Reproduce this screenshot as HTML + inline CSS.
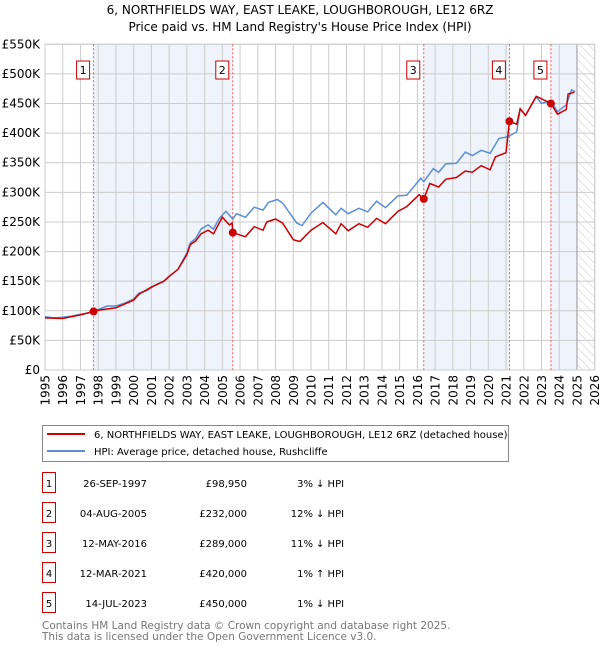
<!DOCTYPE html>
<html><head><meta charset="utf-8"><style>
body{margin:0;background:#fff;font-family:"DejaVu Sans","Liberation Sans",sans-serif;}
svg text{font-family:"DejaVu Sans","Liberation Sans",sans-serif;}
</style></head><body>
<svg id="chart" width="600" height="650" viewBox="0 0 600 650" xmlns="http://www.w3.org/2000/svg">
<defs>
<pattern id="hatch" width="6" height="6" patternUnits="userSpaceOnUse" patternTransform="rotate(-45)">
<line x1="0" y1="0" x2="0" y2="6" stroke="#ccc" stroke-width="1"/>
</pattern>
</defs>
<text x="300" y="14" text-anchor="middle" font-size="12" fill="#000">6, NORTHFIELDS WAY, EAST LEAKE, LOUGHBOROUGH, LE12 6RZ</text>
<text x="300" y="31" text-anchor="middle" font-size="12" fill="#000">Price paid vs. HM Land Registry's House Price Index (HPI)</text>
<g id="plot"></g>
<g>
<rect x="42.5" y="425.5" width="466" height="36" fill="#fff" stroke="#888"/>
<line x1="47" y1="434" x2="85" y2="434" stroke="#cc0000" stroke-width="2"/>
<text x="94" y="438" font-size="10" fill="#000">6, NORTHFIELDS WAY, EAST LEAKE, LOUGHBOROUGH, LE12 6RZ (detached house)</text>
<line x1="47" y1="451" x2="85" y2="451" stroke="#5b8fd6" stroke-width="2"/>
<text x="94" y="455" font-size="10" fill="#000">HPI: Average price, detached house, Rushcliffe</text>
</g>
<g id="table"></g>
<text x="42" y="629" font-size="10.5" fill="#777">Contains HM Land Registry data © Crown copyright and database right 2025.</text>
<text x="42" y="640" font-size="10.5" fill="#777">This data is licensed under the Open Government Licence v3.0.</text>
</svg>
<script>
const hpiYears=[1995,1995.5,1996,1996.5,1997,1997.4,1997.74,1998,1998.5,1999,1999.5,2000,2000.3,2000.8,2001.2,2001.7,2002,2002.5,2003,2003.2,2003.5,2003.8,2004.2,2004.5,2004.8,2005.2,2005.59,2005.8,2006.3,2006.8,2007.3,2007.6,2008.1,2008.4,2008.8,2009.2,2009.5,2010,2010.67,2011.4,2011.7,2012.1,2012.7,2013.2,2013.7,2014.2,2014.9,2015.4,2016.2,2016.36,2016.9,2017.2,2017.6,2018.2,2018.7,2019.1,2019.6,2020.1,2020.6,2021.1,2021.6,2021.8,2022.1,2022.7,2023,2023.53,2023.9,2024.4,2024.7,2024.9];
const hpiValues=[90,88,89,91,94,96,100,102,108,108,113,120,130,135,143,150,158,170,198,215,222,238,245,238,255,268,255,264,258,275,270,283,288,282,265,248,244,265,283,262,273,264,273,267,285,274,294,295,324,318,340,334,348,349,368,362,371,366,391,394,402,441,430,461,450,455,436,448,473,470];
const priceYears=[1995,1996,1997,1997.74,1998,1999,2000,2000.3,2001,2001.7,2002,2002.5,2003,2003.2,2003.5,2003.8,2004.2,2004.5,2005,2005.4,2005.55,2005.59,2006.3,2006.8,2007.3,2007.5,2008,2008.4,2009,2009.37,2010,2010.67,2011.4,2011.7,2012.1,2012.7,2013.2,2013.7,2014.2,2014.9,2015.4,2016.1,2016.36,2016.7,2017.2,2017.6,2018.2,2018.7,2019.1,2019.6,2020.1,2020.4,2021.0,2021.19,2021.6,2021.8,2022.1,2022.7,2023,2023.4,2023.53,2023.9,2024.4,2024.5,2024.85];
const priceValues=[88,87,93,99,101,105,118,128,140,150,158,170,195,212,218,230,236,230,258,245,248,232,225,242,236,250,255,248,220,217,236,249,230,247,235,247,241,256,247,268,276,296,289,315,309,322,325,336,334,345,338,360,367,420,415,441,430,462,458,452,450,432,440,466,469];
const saleYears=[1997.74,2005.59,2016.36,2021.19,2023.53];
const saleValues=[98950,232000,289000,420000,450000];
const saleDates=["26-SEP-1997","04-AUG-2005","12-MAY-2016","12-MAR-2021","14-JUL-2023"];
const salePrices=["£98,950","£232,000","£289,000","£420,000","£450,000"];
const salePcts=["3%","12%","11%","1%","1%"];
const saleDirs=["↓","↓","↓","↑","↓"];
const yTicks=[0,50,100,150,200,250,300,350,400,450,500,550];
const yTickLabels=["£0","£50K","£100K","£150K","£200K","£250K","£300K","£350K","£400K","£450K","£500K","£550K"];
const xTicks=[1995,1996,1997,1998,1999,2000,2001,2002,2003,2004,2005,2006,2007,2008,2009,2010,2011,2012,2013,2014,2015,2016,2017,2018,2019,2020,2021,2022,2023,2024,2025,2026];

const X0=45,X1=594.7,Y0=370,Y1=44.3;
const xs=y=>X0+(y-1995)/(2026-1995)*(X1-X0);
const ys=v=>Y0-v/550*(Y0-Y1);
const NS="http://www.w3.org/2000/svg";
function mk(tag,attrs,parent,txt){const e=document.createElementNS(NS,tag);for(const k in attrs)e.setAttribute(k,attrs[k]);if(txt!==undefined)e.textContent=txt;parent.appendChild(e);return e;}
const plot=document.getElementById('plot');

for(let i=0;i<saleYears.length;i+=2){
const a=saleYears[i],b=i+1<saleYears.length?saleYears[i+1]:2025;
const r=mk('rect',{x:xs(a),y:Y1,width:xs(b)-xs(a),height:Y0-Y1,fill:'#eef3fc'},plot);


}
const h=mk('rect',{x:xs(2025),y:Y1,width:X1-xs(2025),height:Y0-Y1,fill:'url(#hatch)'},plot);


yTicks.forEach((v,i)=>{
mk('line',{x1:X0,x2:X1,y1:ys(v),y2:ys(v),stroke:'#ccc','stroke-width':1},plot);
const t=mk('text',{x:40,y:ys(v)+4,'text-anchor':'end','font-size':12,fill:'#000'},plot,yTickLabels[i]);


});
xTicks.forEach(yr=>{
mk('line',{x1:xs(yr),x2:xs(yr),y1:Y1,y2:Y0,stroke:'#ccc','stroke-width':1},plot);
const t=mk('text',{x:0,y:0,'text-anchor':'end','font-size':12,fill:'#000',transform:`translate(${xs(yr)+4.5},375) rotate(-90)`},plot,String(yr));


});
mk('line',{x1:xs(2025),x2:xs(2025),y1:Y1,y2:Y0,stroke:'#999','stroke-width':1},plot);
mk('rect',{x:X0,y:Y1,width:X1-X0,height:Y0-Y1,fill:'none',stroke:'#ccc'},plot);
saleYears.forEach((yr,i)=>{
const l=mk('line',{x1:xs(yr),x2:xs(yr),y1:Y1,y2:Y0,stroke:'#e55','stroke-width':1,'stroke-dasharray':'2,2'},plot);


const g=mk('g',{},plot);


mk('rect',{x:xs(yr)-17,y:61,width:13,height:18,fill:'#fff',stroke:'#c00'},g);
mk('text',{x:xs(yr)-10.5,y:74,'text-anchor':'middle','font-size':11,fill:'#000'},g,String(i+1));
});
let d='';hpiYears.forEach((yr,i)=>{d+=(i?'L':'M')+xs(yr).toFixed(1)+','+ys(hpiValues[i]).toFixed(1);});
const hp=mk('path',{d:d,fill:'none',stroke:'#5b8fd6','stroke-width':1.5},plot);


let pd='';priceYears.forEach((yr,i)=>{pd+=(i?'L':'M')+xs(yr).toFixed(1)+','+ys(priceValues[i]).toFixed(1);});
const pp=mk('path',{d:pd,fill:'none',stroke:'#cc0000','stroke-width':1.5},plot);


saleYears.forEach((yr,i)=>{
const c=mk('circle',{cx:xs(yr),cy:ys(saleValues[i]/1000),r:4,fill:'#cc0000'},plot);


});
const tb=document.getElementById('table');
saleDates.forEach((dt,i)=>{
const y=483+i*30;
const g=mk('g',{},tb);


mk('rect',{x:42.5,y:y-10.5,width:13,height:20,fill:'#fff',stroke:'#c00'},g);
mk('text',{x:49,y:y+4,'text-anchor':'middle','font-size':10,fill:'#000'},g,String(i+1));
mk('text',{x:147,y:y+4,'text-anchor':'end','font-size':10,fill:'#000'},g,dt);
mk('text',{x:247,y:y+4,'text-anchor':'end','font-size':10,fill:'#000'},g,salePrices[i]);
mk('text',{x:313,y:y+4,'text-anchor':'end','font-size':10,fill:'#000'},g,salePcts[i]);
mk('text',{x:316,y:y+4,'font-size':10,fill:'#000'},g,saleDirs[i]+' HPI');
});
</script>
</body></html>
